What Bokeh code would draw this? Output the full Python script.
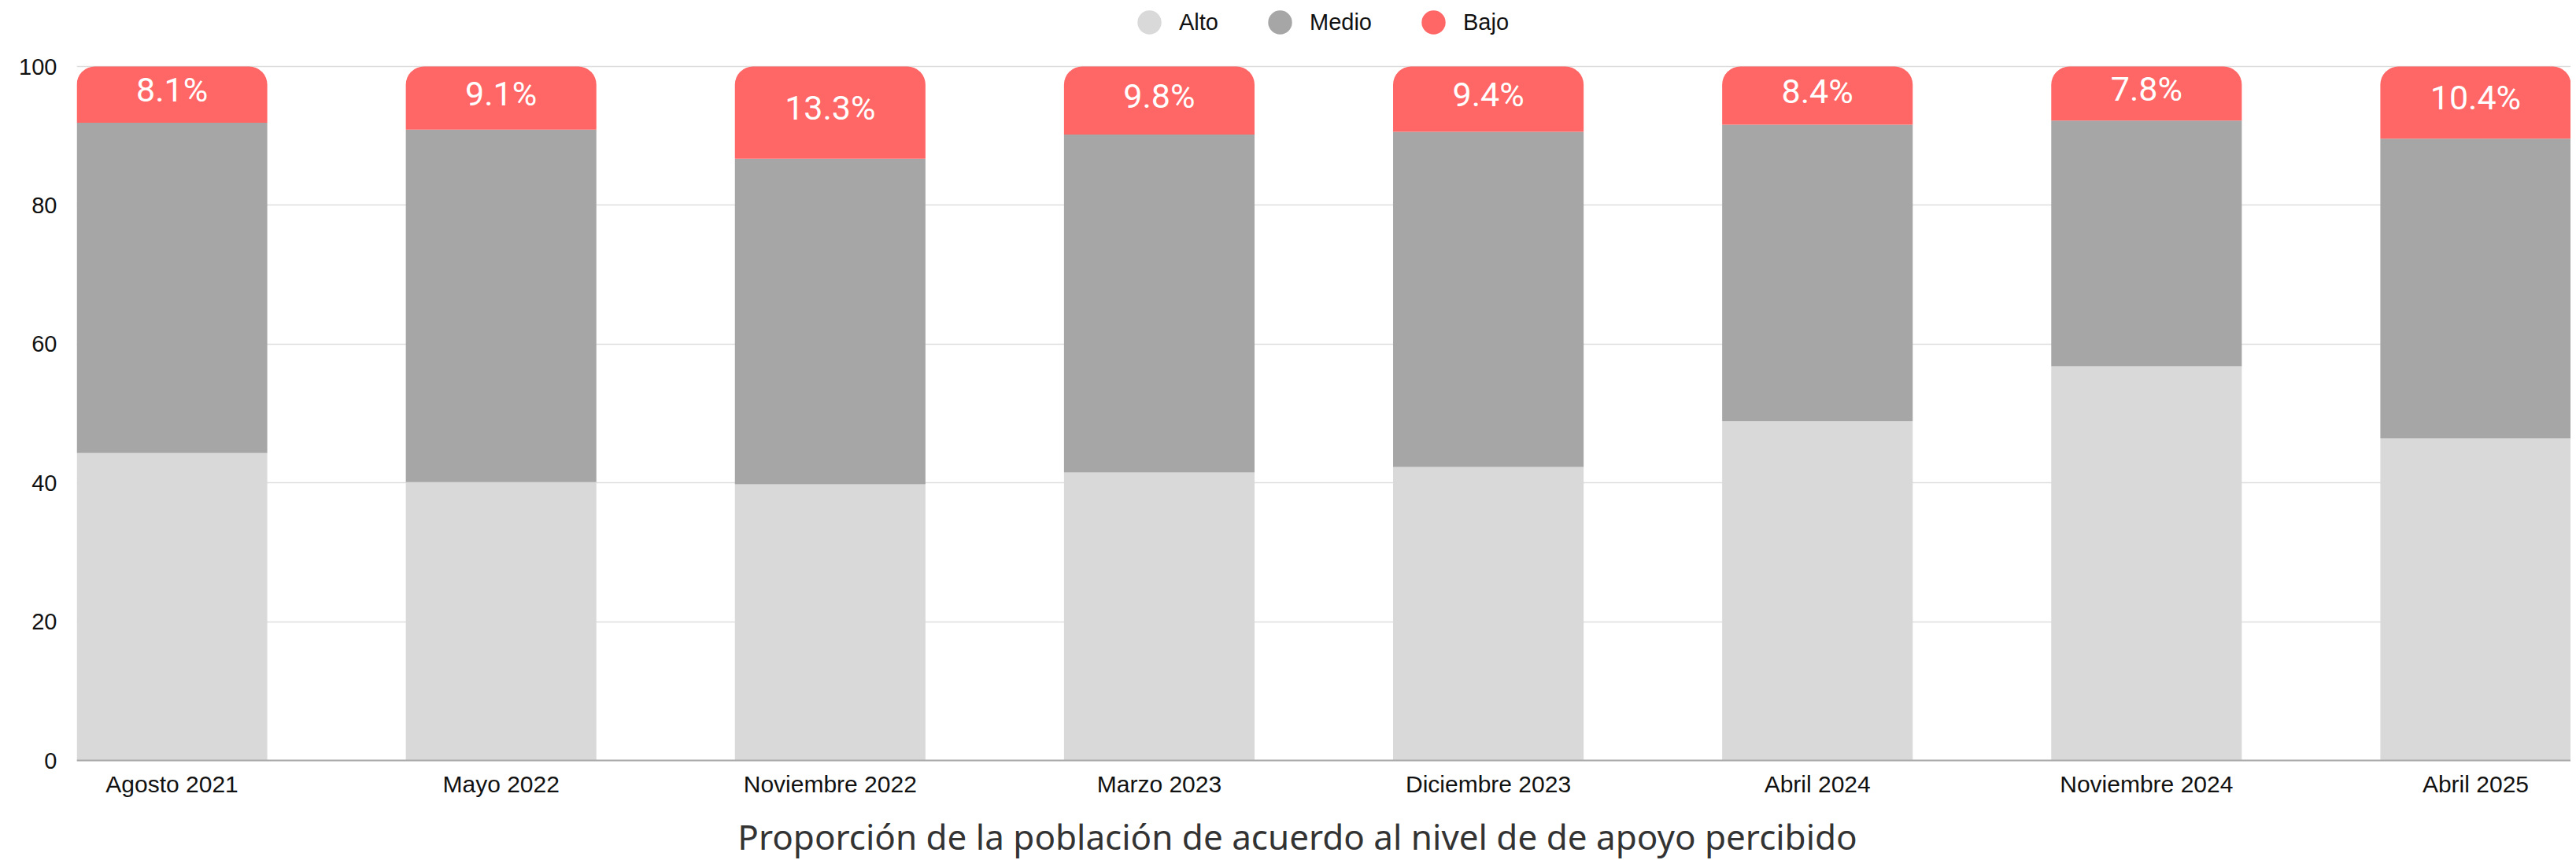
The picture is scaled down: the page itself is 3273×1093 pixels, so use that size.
from bokeh.plotting import figure
from bokeh.models import (ColumnDataSource, Range1d, FixedTicker, Legend, LegendItem, Label)
from bokeh.core.properties import value
from bokeh.embed import file_html
from bokeh.resources import INLINE

# ---- data ----
categorias = ["Agosto 2021", "Mayo 2022", "Noviembre 2022", "Marzo 2023",
              "Diciembre 2023", "Abril 2024", "Noviembre 2024", "Abril 2025"]
alto = [44.3, 40.1, 39.8, 41.5, 42.3, 48.9, 56.8, 46.4]
medio = [47.6, 50.8, 46.9, 48.7, 48.3, 42.7, 35.4, 43.2]
bajo = [8.1, 9.1, 13.3, 9.8, 9.4, 8.4, 7.8, 10.4]
y_ticks = [0, 20, 40, 60, 80, 100]
series = ["Alto", "Medio", "Bajo"]
titulo = "Proporción de la población de acuerdo al nivel de de apoyo percibido"

C_ALTO = "#d9d9d9"
C_MEDIO = "#a6a6a6"
C_BAJO = "#ff6666"

x = list(range(len(categorias)))
alto_top = alto[:]
medio_top = [a + m for a, m in zip(alto, medio)]
bajo_top = [mt + b for mt, b in zip(medio_top, bajo)]
src = ColumnDataSource(dict(
    x=x, alto_top=alto_top, medio_top=medio_top, bajo_top=bajo_top,
    lbl_y=[mt + b / 2 for mt, b in zip(medio_top, bajo)],
    lbl=[f"{b:.1f}%" for b in bajo],
))

# layout (figure pixels); the frame covers the whole figure height
FIG_W, FIG_H = 3266, 1092
LEFT = 97
ROW100, ROW0 = 84, 966               # pixel rows of the 100 and 0 lines
PX = (ROW0 - ROW100) / 100.0
Y_END = 100 + ROW100 / PX
Y_START = -(FIG_H - ROW0) / PX

W = 0.579
p = figure(width=FIG_W, height=FIG_H, output_backend="svg", toolbar_location=None,
           x_range=Range1d(-W / 2, len(categorias) - 1 + W / 2),
           y_range=Range1d(Y_START, Y_END),
           min_border_left=LEFT, min_border_right=0, min_border_top=0,
           min_border_bottom=0)
p.outline_line_color = None
p.background_fill_color = "white"

p.vbar(x="x", top="alto_top", bottom=0, width=W, source=src,
       fill_color=C_ALTO, line_color=None)
p.vbar(x="x", top="medio_top", bottom="alto_top", width=W, source=src,
       fill_color=C_MEDIO, line_color=None)
p.vbar(x="x", top="bajo_top", bottom="medio_top", width=W, source=src,
       fill_color=C_BAJO, line_color=None, border_radius=(23, 23, 0, 0))

p.text(x="x", y="lbl_y", text="lbl", source=src, text_align="center",
       text_baseline="middle", y_offset=-6, text_color="white",
       text_font=value("Roboto"), text_font_size="43px")

# axes
p.xaxis.fixed_location = 0
p.xaxis.ticker = FixedTicker(ticks=x)
p.xaxis.major_label_overrides = {i: c for i, c in enumerate(categorias)}
p.xaxis.major_tick_line_color = None
p.xaxis.major_tick_out = 0
p.xaxis.major_tick_in = 0
p.xaxis.minor_tick_line_color = None
p.xaxis.axis_line_color = "#aaaaaa"
p.xaxis.axis_line_width = 2
p.xaxis.major_label_standoff = 13
p.xaxis.major_label_text_font = "Liberation Sans"
p.xaxis.major_label_text_font_size = "30px"
p.xaxis.major_label_text_color = "#111111"

p.yaxis.ticker = FixedTicker(ticks=y_ticks)
p.yaxis.major_tick_line_color = None
p.yaxis.major_tick_out = 0
p.yaxis.major_tick_in = 0
p.yaxis.minor_tick_line_color = None
p.yaxis.axis_line_color = None
p.yaxis.major_label_standoff = 25
p.yaxis.major_label_text_font = "Liberation Sans"
p.yaxis.major_label_text_font_size = "29px"
p.yaxis.major_label_text_color = "#111111"

p.xgrid.grid_line_color = None
p.ygrid.grid_line_color = "#dddddd"
p.ygrid.grid_line_width = 1.5
p.ygrid.ticker = FixedTicker(ticks=y_ticks)

# legend (circle markers; proxies of zero size)
colores = [C_ALTO, C_MEDIO, C_BAJO]
items = []
for nombre, col in zip(series, colores):
    d = p.scatter(x="x", y="alto_top", source=src, marker="circle", size=0,
                  fill_color=col, line_color=None)
    items.append(LegendItem(label=nombre, renderers=[d]))
GLYPH = 76
legend = Legend(items=items, orientation="horizontal",
                location=(1325, FIG_H - 28 - GLYPH // 2),
                glyph_width=GLYPH, glyph_height=GLYPH, label_standoff=-5, spacing=40,
                padding=0, margin=0, border_line_color=None,
                background_fill_alpha=0,
                label_text_font="Liberation Sans", label_text_font_size="29px",
                label_text_color="#111111")
p.add_layout(legend, "center")

# title at the bottom
t = Label(x=1551, y=0, x_units="screen", y_units="screen",
          text=titulo, text_align="center", text_baseline="bottom",
          text_font="Noto Sans", text_font_size="44px", text_color="#333333")
p.add_layout(t)

open("out.html", "w").write(file_html(p, INLINE))
